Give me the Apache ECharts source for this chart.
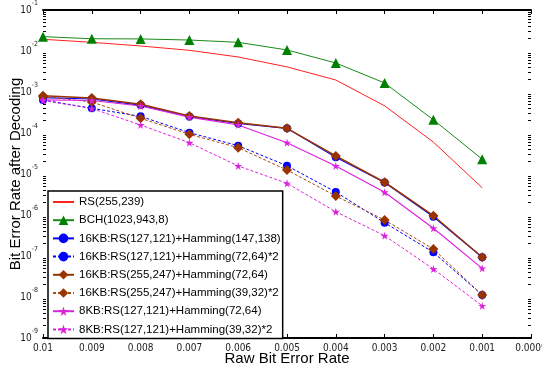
<!DOCTYPE html>
<html>
<head>
<meta charset="utf-8">
<script src="https://cdn.jsdelivr.net/npm/echarts@6/dist/echarts.min.js"></script>
<style>
  html, body { margin: 0; padding: 0; background: #fff; }
  #chart { width: 542px; height: 369px; }
</style>
</head>
<body>
<div id="chart"></div>
<script>
const rawBer = ["0.01", "0.009", "0.008", "0.007", "0.006", "0.005", "0.004", "0.003", "0.002", "0.001", "0.0009"];

const rs255 = [0.0193, 0.0163, 0.01325, 0.0104, 0.00715, 0.0041, 0.00196, 4.6e-4, 6.0e-5, 4.6e-6];
const bch = [0.0224, 0.0199, 0.0197, 0.0185, 0.0163, 0.0106, 0.0051, 0.00166, 2.1e-4, 2.3e-5];
const kb16Rs127Ham147 = [7.3e-4, 6.75e-4, 4.8e-4, 2.52e-4, 1.71e-4, 1.3e-4, 2.55e-5, 6.2e-6, 9.1e-7, 9.3e-8];
const kb16Rs127Ham72x2 = [6.4e-4, 4.0e-4, 2.55e-4, 1.02e-4, 4.9e-5, 1.59e-5, 3.64e-6, 6.5e-7, 1.23e-7, 1.12e-8];
const kb16Rs255Ham72 = [8.1e-4, 7.1e-4, 5.0e-4, 2.6e-4, 1.78e-4, 1.3e-4, 2.76e-5, 6.3e-6, 9.6e-7, 9.3e-8];
const kb16Rs255Ham39x2 = [7.8e-4, 5.7e-4, 2.29e-4, 9.3e-5, 4.38e-5, 1.25e-5, 2.9e-6, 7.55e-7, 1.48e-7, 1.12e-8];
const kb8Rs127Ham72 = [6.4e-4, 6.2e-4, 4.56e-4, 2.45e-4, 1.57e-4, 5.8e-5, 1.57e-5, 3.58e-6, 4.74e-7, 5.0e-8];
const kb8Rs127Ham39x2 = [6.2e-4, 3.96e-4, 1.57e-4, 5.8e-5, 1.57e-5, 5.93e-6, 1.2e-6, 3.13e-7, 4.82e-8, 6.1e-9];

const star = "path://M50,0 L61,35 L98,35 L68,57 L79,91 L50,70 L21,91 L32,57 L2,35 L39,35 Z";
const narrow = "'Liberation Sans Narrow', 'DejaVu Sans Condensed', 'Liberation Sans', sans-serif";
const sans = "'Liberation Sans', Arial, sans-serif";

const chart = echarts.init(document.getElementById("chart"));

function line(name, data, color, opts) {
  return Object.assign({
    name,
    type: "line",
    data,
    symbol: "none",
    symbolSize: 8,
    lineStyle: { color, width: 1.2, type: "solid" },
    itemStyle: { color },
    emphasis: { disabled: true },
    animation: false
  }, opts);
}

const axisLine = { lineStyle: { color: "#000", width: 2 } };

const series = [
  line("RS(255,239)", rs255, "#ff2020", { lineStyle: { color: "#ff2020", width: 1 } }),
  line("BCH(1023,943,8)", bch, "#008000", { symbol: "triangle", symbolSize: 10, lineStyle: { color: "#1a8a1a", width: 1 } }),
  line("16KB:RS(127,121)+Hamming(147,138)", kb16Rs127Ham147, "#0000ff", { symbol: "circle", symbolSize: 8 }),
  line("16KB:RS(127,121)+Hamming(72,64)*2", kb16Rs127Ham72x2, "#0000ff", { symbol: "circle", symbolSize: 8, lineStyle: { color: "#0000ff", width: 1, type: [3, 2] } }),
  line("16KB:RS(255,247)+Hamming(72,64)", kb16Rs255Ham72, "#993300", { symbol: "diamond", symbolSize: 10, lineStyle: { color: "#993300", width: 1.5 } }),
  line("16KB:RS(255,247)+Hamming(39,32)*2", kb16Rs255Ham39x2, "#993300", { symbol: "diamond", symbolSize: 10, lineStyle: { color: "#b04a10", width: 1, type: [3, 2] } }),
  line("8KB:RS(127,121)+Hamming(72,64)", kb8Rs127Ham72, "#dd22dd", { symbol: star, symbolSize: 8, lineStyle: { color: "#dd22dd", width: 1.2 } }),
  line("8KB:RS(127,121)+Hamming(39,32)*2", kb8Rs127Ham39x2, "#dd22dd", { symbol: star, symbolSize: 8, lineStyle: { color: "#dd22dd", width: 1, type: [3, 2] } })
];

chart.setOption({
  backgroundColor: "#fff",
  grid: { left: 43, right: 11, top: 10, bottom: 31, outerBoundsMode: "none" },
  legend: {
    orient: "vertical",
    left: 48,
    top: 191,
    padding: [5, 2, 3, 4],
    itemWidth: 21,
    itemHeight: 12,
    itemGap: 6.2,
    backgroundColor: "#fff",
    borderColor: "#000",
    borderWidth: 1.5,
    textStyle: { fontSize: 11.5, fontFamily: sans, color: "#000", lineHeight: 12 },
    // RS has no marker, so its legend shows only the line
    data: series.map((s) => (s.symbol === "none" ? { name: s.name, itemStyle: { opacity: 0 } } : { name: s.name }))
  },
  xAxis: [
    {
      type: "category",
      data: rawBer,
      boundaryGap: false,
      axisLine,
      axisTick: { inside: true, length: 4, interval: 0, lineStyle: { color: "#000" } },
      axisLabel: { interval: 0, fontSize: 10, fontFamily: narrow, color: "#222", margin: 5 },
      splitLine: { show: false },
      name: "Raw Bit Error Rate",
      nameLocation: "middle",
      nameGap: 13,
      nameMoveOverlap: false,
      nameTextStyle: { fontSize: 15, fontFamily: sans, color: "#000", verticalAlign: "top" }
    },
    {
      type: "category",
      data: rawBer,
      position: "top",
      boundaryGap: false,
      axisLine,
      axisTick: { inside: true, length: 4, interval: 0, lineStyle: { color: "#000" } },
      axisLabel: { show: false },
      splitLine: { show: false }
    }
  ],
  yAxis: [
    {
      type: "log",
      logBase: 10,
      min: 1e-9,
      max: 1e-1,
      splitNumber: 8,
      axisLine,
      axisTick: { inside: true, length: 5, lineStyle: { color: "#000" } },
      minorTick: { show: true, splitNumber: 9, length: 3, lineStyle: { color: "#000" } },
      splitLine: { show: false },
      axisLabel: {
        margin: 5,
        formatter: (v) => "{a|10}{b|" + Math.round(Math.log10(v)) + "}",
        rich: {
          a: { fontSize: 10, lineHeight: 10, fontFamily: narrow, color: "#222", padding: [5, 0, 5, 0] },
          b: { fontSize: 7, lineHeight: 7, fontFamily: narrow, color: "#222", padding: [0, 0, 13, 0] }
        }
      },
      name: "Bit Error Rate after Decoding",
      nameLocation: "middle",
      nameGap: 20,
      nameMoveOverlap: false,
      nameTextStyle: { fontSize: 15, fontFamily: sans, color: "#000" }
    },
    {
      type: "log",
      logBase: 10,
      min: 1e-9,
      max: 1e-1,
      splitNumber: 8,
      position: "right",
      axisLine,
      axisTick: { inside: true, length: 5, lineStyle: { color: "#000" } },
      minorTick: { show: true, splitNumber: 9, length: 3, lineStyle: { color: "#000" } },
      splitLine: { show: false },
      axisLabel: { show: false }
    }
  ],
  series
});
</script>
</body>
</html>
